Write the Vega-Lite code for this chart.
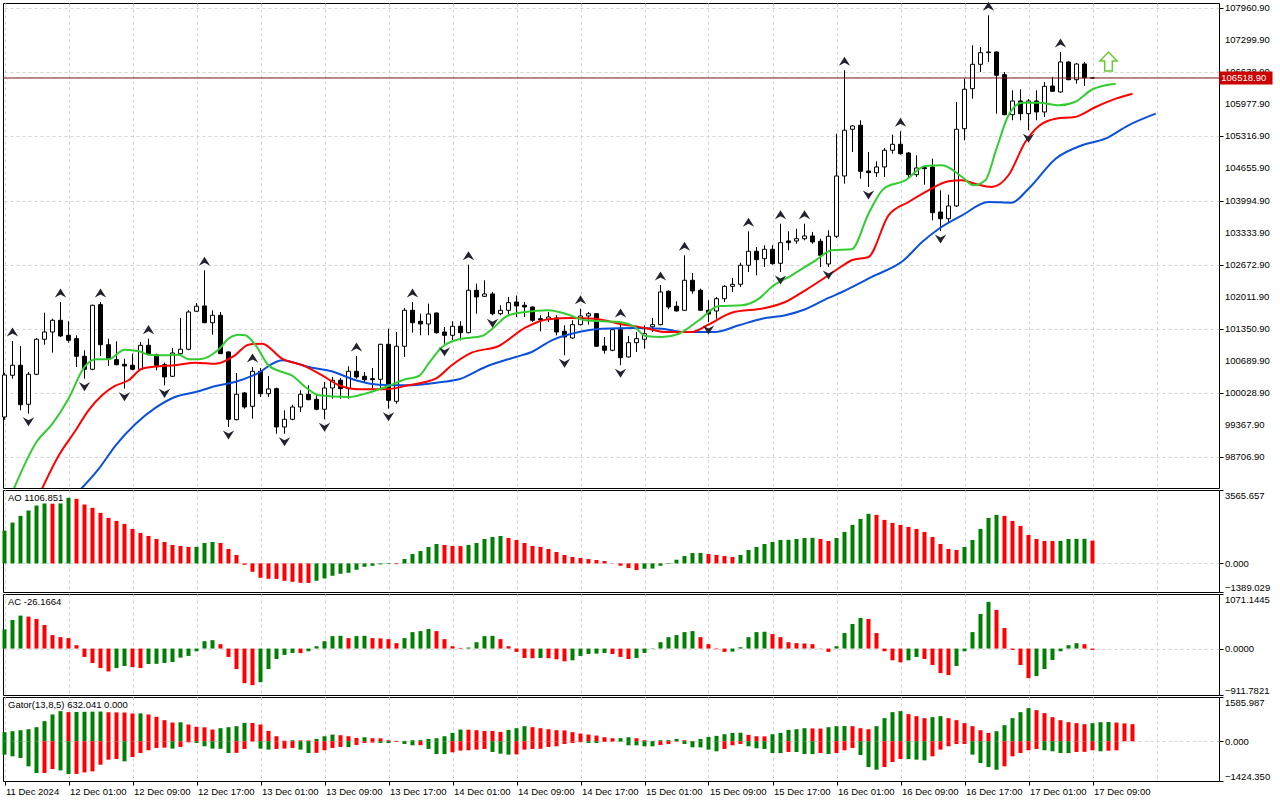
{
  "$schema": "https://vega.github.io/schema/vega-lite/v6.json",
  "background": "white",
  "padding": {"left": 1, "top": 1, "right": 0, "bottom": 0},
  "bounds": "flush",
  "spacing": 2,
  "config": {
    "view": {"stroke": "black", "strokeWidth": 1},
    "axis": {"labelFont": "Liberation Sans", "labelFontSize": 9.5, "labelColor": "black", "title": null, "labelOverlap": false},
    "text": {"font": "Liberation Sans"}
  },
  "datasets": {
    "candles": [
      {"i":0,"o":99539,"h":100450,"l":99480,"c":100404},
      {"i":1,"o":100398,"h":101104,"l":100328,"c":100604},
      {"i":2,"o":100604,"h":101001,"l":99677,"c":99792},
      {"i":3,"o":99801,"h":100466,"l":99607,"c":100419},
      {"i":4,"o":100419,"h":101165,"l":100400,"c":101139},
      {"i":5,"o":101139,"h":101687,"l":101027,"c":101289},
      {"i":6,"o":101289,"h":101563,"l":100864,"c":101530},
      {"i":7,"o":101530,"h":101907,"l":101186,"c":101207},
      {"i":8,"o":101221,"h":101510,"l":101069,"c":101118},
      {"i":9,"o":101152,"h":101221,"l":100569,"c":100789},
      {"i":10,"o":100789,"h":100913,"l":100328,"c":100522},
      {"i":11,"o":100522,"h":101852,"l":100501,"c":101839},
      {"i":12,"o":101852,"h":101907,"l":100795,"c":101027},
      {"i":13,"o":101027,"h":101152,"l":100589,"c":100740},
      {"i":14,"o":100719,"h":101097,"l":100604,"c":100616},
      {"i":15,"o":100624,"h":100740,"l":100122,"c":100589},
      {"i":16,"o":100604,"h":100843,"l":100501,"c":100522},
      {"i":17,"o":100522,"h":101083,"l":100501,"c":101015},
      {"i":18,"o":101015,"h":101152,"l":100809,"c":100836},
      {"i":19,"o":100822,"h":100843,"l":100501,"c":100604},
      {"i":20,"o":100616,"h":100658,"l":100191,"c":100363},
      {"i":21,"o":100377,"h":100960,"l":100363,"c":100857},
      {"i":22,"o":100843,"h":101577,"l":100809,"c":100933},
      {"i":23,"o":100933,"h":101736,"l":100913,"c":101701},
      {"i":24,"o":101716,"h":101886,"l":101701,"c":101819},
      {"i":25,"o":101825,"h":102560,"l":101470,"c":101481},
      {"i":26,"o":101481,"h":101736,"l":101234,"c":101633},
      {"i":27,"o":101633,"h":101701,"l":100836,"c":100843},
      {"i":28,"o":100878,"h":100890,"l":99333,"c":99492},
      {"i":29,"o":99484,"h":100445,"l":99471,"c":100007},
      {"i":30,"o":100034,"h":100054,"l":99710,"c":99745},
      {"i":31,"o":99760,"h":100569,"l":99504,"c":100480},
      {"i":32,"o":100480,"h":100548,"l":99951,"c":100019},
      {"i":33,"o":100019,"h":100383,"l":99951,"c":100116},
      {"i":34,"o":100122,"h":100143,"l":99195,"c":99333},
      {"i":35,"o":99333,"h":99677,"l":99195,"c":99492},
      {"i":36,"o":99492,"h":99792,"l":99471,"c":99745},
      {"i":37,"o":99745,"h":100089,"l":99642,"c":100007},
      {"i":38,"o":100007,"h":100191,"l":99883,"c":99896},
      {"i":39,"o":99904,"h":99986,"l":99677,"c":99698},
      {"i":40,"o":99698,"h":100260,"l":99492,"c":100136},
      {"i":41,"o":100136,"h":100363,"l":99916,"c":100295},
      {"i":42,"o":100295,"h":100342,"l":99916,"c":100122},
      {"i":43,"o":100122,"h":100583,"l":99916,"c":100480},
      {"i":44,"o":100480,"h":100795,"l":100328,"c":100363},
      {"i":45,"o":100377,"h":100466,"l":100260,"c":100307},
      {"i":46,"o":100328,"h":100548,"l":100122,"c":100307},
      {"i":47,"o":100315,"h":101048,"l":100122,"c":101036},
      {"i":48,"o":101036,"h":101357,"l":99710,"c":99883},
      {"i":49,"o":99862,"h":101289,"l":99813,"c":100995},
      {"i":50,"o":100995,"h":101784,"l":100775,"c":101736},
      {"i":51,"o":101736,"h":101907,"l":101275,"c":101481},
      {"i":52,"o":101510,"h":101666,"l":101221,"c":101454},
      {"i":53,"o":101454,"h":101872,"l":101221,"c":101660},
      {"i":54,"o":101680,"h":101690,"l":101254,"c":101275},
      {"i":55,"o":101289,"h":101392,"l":101048,"c":101221},
      {"i":56,"o":101221,"h":101510,"l":101118,"c":101407},
      {"i":57,"o":101407,"h":101510,"l":101118,"c":101275},
      {"i":58,"o":101275,"h":102675,"l":101265,"c":102148},
      {"i":59,"o":102148,"h":102284,"l":101666,"c":102010},
      {"i":60,"o":102024,"h":102354,"l":102010,"c":102072},
      {"i":61,"o":102072,"h":102113,"l":101633,"c":101666},
      {"i":62,"o":101666,"h":101839,"l":101633,"c":101736},
      {"i":63,"o":101736,"h":102010,"l":101645,"c":101893},
      {"i":64,"o":101907,"h":102042,"l":101598,"c":101825},
      {"i":65,"o":101839,"h":101907,"l":101598,"c":101804},
      {"i":66,"o":101804,"h":101815,"l":101495,"c":101530},
      {"i":67,"o":101563,"h":101633,"l":101304,"c":101536},
      {"i":68,"o":101551,"h":101701,"l":101495,"c":101598},
      {"i":69,"o":101577,"h":101633,"l":101221,"c":101289},
      {"i":70,"o":101304,"h":101427,"l":100809,"c":101186},
      {"i":71,"o":101166,"h":101530,"l":101152,"c":101440},
      {"i":72,"o":101440,"h":101769,"l":101427,"c":101619},
      {"i":73,"o":101619,"h":101701,"l":101440,"c":101666},
      {"i":74,"o":101666,"h":101676,"l":100980,"c":100995},
      {"i":75,"o":101001,"h":101186,"l":100843,"c":100913},
      {"i":76,"o":100913,"h":101372,"l":100892,"c":101337},
      {"i":77,"o":101337,"h":101495,"l":100604,"c":100760},
      {"i":78,"o":100775,"h":101207,"l":100765,"c":101069},
      {"i":79,"o":101069,"h":101289,"l":100878,"c":101152},
      {"i":80,"o":101139,"h":101427,"l":100946,"c":101254},
      {"i":81,"o":101398,"h":101577,"l":101289,"c":101440},
      {"i":82,"o":101440,"h":102257,"l":101427,"c":102113},
      {"i":83,"o":102127,"h":102148,"l":101757,"c":101804},
      {"i":84,"o":101819,"h":101921,"l":101715,"c":101722},
      {"i":85,"o":101736,"h":102869,"l":101726,"c":102354},
      {"i":86,"o":102354,"h":102504,"l":102078,"c":102134},
      {"i":87,"o":102148,"h":102181,"l":101730,"c":101736},
      {"i":88,"o":101736,"h":101942,"l":101495,"c":101660},
      {"i":89,"o":101722,"h":102010,"l":101563,"c":101975},
      {"i":90,"o":101975,"h":102251,"l":101907,"c":102230},
      {"i":91,"o":102230,"h":102401,"l":102113,"c":102271},
      {"i":92,"o":102271,"h":102716,"l":102216,"c":102663},
      {"i":93,"o":102663,"h":103363,"l":102525,"c":102951},
      {"i":94,"o":102951,"h":103040,"l":102457,"c":102778},
      {"i":95,"o":102799,"h":103075,"l":102628,"c":102992},
      {"i":96,"o":102992,"h":103075,"l":102675,"c":102696},
      {"i":97,"o":102704,"h":103519,"l":102525,"c":103128},
      {"i":98,"o":103163,"h":103363,"l":102972,"c":103128},
      {"i":99,"o":103163,"h":103416,"l":103107,"c":103210},
      {"i":100,"o":103210,"h":103519,"l":103177,"c":103266},
      {"i":101,"o":103266,"h":103349,"l":103107,"c":103142},
      {"i":102,"o":103157,"h":103210,"l":102628,"c":102869},
      {"i":103,"o":102690,"h":103383,"l":102628,"c":103260},
      {"i":104,"o":103260,"h":105372,"l":103225,"c":104501},
      {"i":105,"o":104501,"h":106678,"l":104343,"c":105443},
      {"i":106,"o":105463,"h":105545,"l":104996,"c":105531},
      {"i":107,"o":105545,"h":105648,"l":104446,"c":104598},
      {"i":108,"o":104604,"h":104996,"l":104275,"c":104569},
      {"i":109,"o":104569,"h":104804,"l":104481,"c":104687},
      {"i":110,"o":104687,"h":105078,"l":104481,"c":105031},
      {"i":111,"o":105031,"h":105352,"l":104961,"c":105154},
      {"i":112,"o":105154,"h":105422,"l":104940,"c":104961},
      {"i":113,"o":104975,"h":104996,"l":104481,"c":104528},
      {"i":114,"o":104528,"h":104928,"l":104481,"c":104666},
      {"i":115,"o":104672,"h":104687,"l":104322,"c":104652},
      {"i":116,"o":104687,"h":104857,"l":103589,"c":103746},
      {"i":117,"o":103760,"h":104207,"l":103369,"c":103622},
      {"i":118,"o":103622,"h":104116,"l":103554,"c":103884},
      {"i":119,"o":103884,"h":106025,"l":103863,"c":105463},
      {"i":120,"o":105475,"h":106505,"l":105237,"c":106287},
      {"i":121,"o":106299,"h":107193,"l":106093,"c":106801},
      {"i":122,"o":106801,"h":107158,"l":106643,"c":107040},
      {"i":123,"o":107040,"h":107810,"l":106849,"c":107055},
      {"i":124,"o":107055,"h":107065,"l":105784,"c":106575},
      {"i":125,"o":106587,"h":106643,"l":105751,"c":105764},
      {"i":126,"o":105764,"h":106266,"l":105648,"c":106046},
      {"i":127,"o":106046,"h":106287,"l":105648,"c":105784},
      {"i":128,"o":105784,"h":106087,"l":105442,"c":106046},
      {"i":129,"o":106046,"h":106266,"l":105648,"c":105819},
      {"i":130,"o":105819,"h":106437,"l":105716,"c":106348},
      {"i":131,"o":106354,"h":106540,"l":106231,"c":106245},
      {"i":132,"o":106231,"h":107055,"l":106216,"c":106849},
      {"i":133,"o":106849,"h":106860,"l":106472,"c":106484},
      {"i":134,"o":106484,"h":106828,"l":106402,"c":106807},
      {"i":135,"o":106807,"h":106849,"l":106354,"c":106525},
      {"i":136,"o":106518.9,"h":106530,"l":106510,"c":106518.9}
    ],
    "fractals": [
      {"i":1,"k":"up","p":101104},{"i":7,"k":"up","p":101907},{"i":12,"k":"up","p":101907},
      {"i":18,"k":"up","p":101152},{"i":25,"k":"up","p":102560},{"i":31,"k":"up","p":100569},
      {"i":44,"k":"up","p":100795},{"i":51,"k":"up","p":101907},{"i":58,"k":"up","p":102675},
      {"i":72,"k":"up","p":101769},{"i":77,"k":"up","p":101495},{"i":82,"k":"up","p":102257},
      {"i":85,"k":"up","p":102869},{"i":93,"k":"up","p":103363},{"i":97,"k":"up","p":103519},
      {"i":100,"k":"up","p":103519},{"i":105,"k":"up","p":106678},{"i":112,"k":"up","p":105422},
      {"i":123,"k":"up","p":107810},{"i":132,"k":"up","p":107055},
      {"i":3,"k":"down","p":99607},{"i":10,"k":"down","p":100328},{"i":15,"k":"down","p":100122},
      {"i":20,"k":"down","p":100191},{"i":28,"k":"down","p":99333},{"i":35,"k":"down","p":99195},
      {"i":40,"k":"down","p":99492},{"i":48,"k":"down","p":99710},{"i":55,"k":"down","p":101048},
      {"i":61,"k":"down","p":101633},{"i":70,"k":"down","p":100809},{"i":77,"k":"down","p":100604},
      {"i":88,"k":"down","p":101495},{"i":97,"k":"down","p":102525},{"i":103,"k":"down","p":102628},
      {"i":108,"k":"down","p":104275},{"i":117,"k":"down","p":103369},{"i":128,"k":"down","p":105442}
    ],
    "pricelabels": [
      {"p":107960.9,"t":"107960.90"},{"p":107299.9,"t":"107299.90"},{"p":106638.9,"t":"106638.90"},
      {"p":105977.9,"t":"105977.90"},{"p":105316.9,"t":"105316.90"},{"p":104655.9,"t":"104655.90"},
      {"p":103994.9,"t":"103994.90"},{"p":103333.9,"t":"103333.90"},{"p":102672.9,"t":"102672.90"},
      {"p":102011.9,"t":"102011.90"},{"p":101350.9,"t":"101350.90"},{"p":100689.9,"t":"100689.90"},
      {"p":100028.9,"t":"100028.90"},{"p":99367.9,"t":"99367.90"},{"p":98706.9,"t":"98706.90"}
    ],
    "lips": [
      {"i":1,"v":97995},{"i":4,"v":99024},{"i":6,"v":99401},{"i":8,"v":99916},{"i":10,"v":100569},
      {"i":11.4,"v":100727},{"i":13,"v":100727},{"i":15,"v":100925},{"i":16.8,"v":100892},{"i":18,"v":100822},
      {"i":20,"v":100809},{"i":21.8,"v":100822},{"i":23,"v":100727},{"i":24.3,"v":100727},{"i":26.8,"v":100933},
      {"i":28,"v":101152},{"i":29.3,"v":101234},{"i":30.1,"v":101221},{"i":31.4,"v":101015},{"i":33,"v":100604},
      {"i":34.7,"v":100466},{"i":35.9,"v":100398},{"i":37.6,"v":100157},{"i":39.3,"v":99986},{"i":43,"v":99951},
      {"i":45.5,"v":100040},{"i":48,"v":100178},{"i":50.1,"v":100315},{"i":51.8,"v":100383},{"i":53,"v":100637},
      {"i":54.7,"v":100980},{"i":56.8,"v":101139},{"i":59.7,"v":101207},{"i":60.9,"v":101345},{"i":63,"v":101633},
      {"i":65.1,"v":101701},{"i":68,"v":101736},{"i":70.1,"v":101666},{"i":72.6,"v":101530},{"i":76.8,"v":101495},
      {"i":78.8,"v":101392},{"i":80.1,"v":101207},{"i":82.2,"v":101186},{"i":84.3,"v":101254},{"i":86.8,"v":101530},
      {"i":89.3,"v":101825},{"i":92.2,"v":101839},{"i":94.3,"v":101975},{"i":95.9,"v":102216},{"i":98.4,"v":102457},
      {"i":101.4,"v":102765},{"i":103.4,"v":102972},{"i":105.9,"v":102992},{"i":108,"v":103725},{"i":109.9,"v":104240},
      {"i":112.6,"v":104413},{"i":115.1,"v":104707},{"i":117.2,"v":104722},{"i":119.7,"v":104481},{"i":121.1,"v":104310},
      {"i":122.6,"v":104413},{"i":124,"v":105064},{"i":125.5,"v":105751},{"i":127.2,"v":106011},{"i":129.3,"v":106011},
      {"i":131.8,"v":105957},{"i":133.8,"v":106025},{"i":136,"v":106287},{"i":138.9,"v":106402}
    ],
    "teeth": [
      {"i":4.5,"v":97995},{"i":6.8,"v":98751},{"i":8.9,"v":99265},{"i":10.5,"v":99677},{"i":12.2,"v":99986},
      {"i":13.8,"v":100178},{"i":15.5,"v":100295},{"i":17.2,"v":100534},{"i":19.3,"v":100583},{"i":21.3,"v":100604},
      {"i":23.9,"v":100658},{"i":26.4,"v":100637},{"i":28.8,"v":100809},{"i":30.5,"v":101028},{"i":32.2,"v":101049},
      {"i":34.7,"v":100740},{"i":37.6,"v":100583},{"i":39.7,"v":100398},{"i":41.8,"v":100192},{"i":44.3,"v":100109},
      {"i":47.6,"v":100109},{"i":50.5,"v":100192},{"i":53.9,"v":100328},{"i":55.9,"v":100604},{"i":58.4,"v":100863},
      {"i":61.8,"v":101001},{"i":65.1,"v":101378},{"i":68,"v":101551},{"i":70.9,"v":101577},{"i":73.8,"v":101563},
      {"i":76.8,"v":101460},{"i":80.1,"v":101372},{"i":82.6,"v":101289},{"i":85.9,"v":101289},{"i":88,"v":101440},
      {"i":90.9,"v":101687},{"i":95.1,"v":101784},{"i":97.6,"v":101907},{"i":100.1,"v":102148},{"i":103,"v":102457},
      {"i":104.7,"v":102648},{"i":105.9,"v":102766},{"i":108,"v":102834},{"i":110.5,"v":103692},{"i":113,"v":103966},
      {"i":115.5,"v":104207},{"i":118,"v":104392},{"i":119.7,"v":104413},{"i":121.3,"v":104343},{"i":123.4,"v":104275},
      {"i":125.5,"v":104516},{"i":127.6,"v":105201},{"i":129.3,"v":105531},{"i":131.4,"v":105681},{"i":133.8,"v":105716},
      {"i":136.4,"v":105922},{"i":138.9,"v":106093},{"i":141,"v":106196}
    ],
    "jaw": [
      {"i":9.2,"v":97995},{"i":11.8,"v":98475},{"i":13.9,"v":98957},{"i":16.4,"v":99401},{"i":18.9,"v":99731},
      {"i":21.3,"v":99951},{"i":23.9,"v":100054},{"i":26.4,"v":100178},{"i":28.8,"v":100260},{"i":31.4,"v":100418},
      {"i":34.7,"v":100707},{"i":38,"v":100569},{"i":40.9,"v":100480},{"i":43.9,"v":100295},{"i":46.8,"v":100204},
      {"i":50.9,"v":100192},{"i":54.7,"v":100260},{"i":56.8,"v":100315},{"i":60.1,"v":100569},{"i":63.9,"v":100775},
      {"i":65.9,"v":100878},{"i":68.4,"v":101118},{"i":71.8,"v":101289},{"i":74.7,"v":101357},{"i":78.8,"v":101372},
      {"i":82.2,"v":101357},{"i":84.7,"v":101289},{"i":88.8,"v":101289},{"i":91.8,"v":101427},{"i":94.7,"v":101563},
      {"i":97.6,"v":101633},{"i":100.1,"v":101757},{"i":103,"v":101990},{"i":104.7,"v":102113},{"i":108.4,"v":102422},
      {"i":112.4,"v":102766},{"i":114.7,"v":103142},{"i":116.8,"v":103416},{"i":119.7,"v":103692},{"i":123,"v":103966},
      {"i":125.9,"v":103952},{"i":128,"v":104240},{"i":131.4,"v":104858},{"i":134.7,"v":105134},{"i":137.6,"v":105269},
      {"i":140.5,"v":105545},{"i":143.9,"v":105784}
    ],
    "ao": [
      {"i":0,"v":1594,"d":"up"},{"i":1,"v":1984,"d":"up"},{"i":2,"v":2309,"d":"up"},{"i":3,"v":2570,"d":"up"},
      {"i":4,"v":2813,"d":"up"},{"i":5,"v":2911,"d":"up"},{"i":6,"v":2900,"d":"down"},{"i":7,"v":2914,"d":"up"},
      {"i":8,"v":3187,"d":"up"},{"i":9,"v":3138,"d":"down"},{"i":10,"v":2862,"d":"down"},{"i":11,"v":2700,"d":"down"},
      {"i":12,"v":2456,"d":"down"},{"i":13,"v":2211,"d":"down"},{"i":14,"v":2065,"d":"down"},{"i":15,"v":1919,"d":"down"},
      {"i":16,"v":1675,"d":"down"},{"i":17,"v":1479,"d":"down"},{"i":18,"v":1333,"d":"down"},{"i":19,"v":1187,"d":"down"},
      {"i":20,"v":1041,"d":"down"},{"i":21,"v":895,"d":"down"},{"i":22,"v":845,"d":"down"},{"i":23,"v":797,"d":"down"},
      {"i":24,"v":805,"d":"up"},{"i":25,"v":992,"d":"up"},{"i":26,"v":1041,"d":"up"},{"i":27,"v":992,"d":"down"},
      {"i":28,"v":699,"d":"down"},{"i":29,"v":407,"d":"down"},{"i":30,"v":-65,"d":"down"},{"i":31,"v":-407,"d":"down"},
      {"i":32,"v":-699,"d":"down"},{"i":33,"v":-748,"d":"down"},{"i":34,"v":-752,"d":"down"},{"i":35,"v":-845,"d":"down"},
      {"i":36,"v":-895,"d":"down"},{"i":37,"v":-943,"d":"down"},{"i":38,"v":-948,"d":"down"},{"i":39,"v":-845,"d":"up"},
      {"i":40,"v":-732,"d":"up"},{"i":41,"v":-601,"d":"up"},{"i":42,"v":-504,"d":"up"},{"i":43,"v":-455,"d":"up"},
      {"i":44,"v":-309,"d":"up"},{"i":45,"v":-163,"d":"up"},{"i":46,"v":-114,"d":"up"},{"i":47,"v":-48,"d":"up"},
      {"i":48,"v":-28,"d":"up"},{"i":49,"v":-37,"d":"down"},{"i":50,"v":211,"d":"up"},{"i":51,"v":455,"d":"up"},
      {"i":52,"v":601,"d":"up"},{"i":53,"v":797,"d":"up"},{"i":54,"v":943,"d":"up"},{"i":55,"v":895,"d":"down"},
      {"i":56,"v":845,"d":"down"},{"i":57,"v":840,"d":"down"},{"i":58,"v":895,"d":"up"},{"i":59,"v":992,"d":"up"},
      {"i":60,"v":1187,"d":"up"},{"i":61,"v":1285,"d":"up"},{"i":62,"v":1333,"d":"up"},{"i":63,"v":1235,"d":"down"},
      {"i":64,"v":1139,"d":"down"},{"i":65,"v":992,"d":"down"},{"i":66,"v":845,"d":"down"},{"i":67,"v":797,"d":"down"},
      {"i":68,"v":699,"d":"down"},{"i":69,"v":553,"d":"down"},{"i":70,"v":407,"d":"down"},{"i":71,"v":309,"d":"down"},
      {"i":72,"v":261,"d":"down"},{"i":73,"v":211,"d":"down"},{"i":74,"v":163,"d":"down"},{"i":75,"v":114,"d":"down"},
      {"i":76,"v":9,"d":"down"},{"i":77,"v":-114,"d":"down"},{"i":78,"v":-228,"d":"down"},{"i":79,"v":-325,"d":"down"},
      {"i":80,"v":-260,"d":"up"},{"i":81,"v":-251,"d":"up"},{"i":82,"v":-114,"d":"up"},{"i":83,"v":-28,"d":"up"},
      {"i":84,"v":179,"d":"up"},{"i":85,"v":358,"d":"up"},{"i":86,"v":504,"d":"up"},{"i":87,"v":510,"d":"up"},
      {"i":88,"v":455,"d":"down"},{"i":89,"v":407,"d":"down"},{"i":90,"v":358,"d":"down"},{"i":91,"v":309,"d":"down"},
      {"i":92,"v":407,"d":"up"},{"i":93,"v":651,"d":"up"},{"i":94,"v":797,"d":"up"},{"i":95,"v":943,"d":"up"},
      {"i":96,"v":1041,"d":"up"},{"i":97,"v":1139,"d":"up"},{"i":98,"v":1145,"d":"up"},{"i":99,"v":1187,"d":"up"},
      {"i":100,"v":1235,"d":"up"},{"i":101,"v":1243,"d":"up"},{"i":102,"v":1187,"d":"down"},{"i":103,"v":1089,"d":"down"},
      {"i":104,"v":1235,"d":"up"},{"i":105,"v":1529,"d":"up"},{"i":106,"v":1870,"d":"up"},{"i":107,"v":2163,"d":"up"},
      {"i":108,"v":2407,"d":"up"},{"i":109,"v":2358,"d":"down"},{"i":110,"v":2114,"d":"down"},{"i":111,"v":1968,"d":"down"},
      {"i":112,"v":1870,"d":"down"},{"i":113,"v":1773,"d":"down"},{"i":114,"v":1675,"d":"down"},{"i":115,"v":1529,"d":"down"},
      {"i":116,"v":1285,"d":"down"},{"i":117,"v":943,"d":"down"},{"i":118,"v":699,"d":"down"},{"i":119,"v":651,"d":"down"},
      {"i":120,"v":797,"d":"up"},{"i":121,"v":1139,"d":"up"},{"i":122,"v":1675,"d":"up"},{"i":123,"v":2211,"d":"up"},
      {"i":124,"v":2358,"d":"up"},{"i":125,"v":2309,"d":"down"},{"i":126,"v":2065,"d":"down"},{"i":127,"v":1821,"d":"down"},
      {"i":128,"v":1383,"d":"down"},{"i":129,"v":1187,"d":"down"},{"i":130,"v":1089,"d":"down"},{"i":131,"v":1085,"d":"down"},
      {"i":132,"v":1091,"d":"up"},{"i":133,"v":1187,"d":"up"},{"i":134,"v":1192,"d":"up"},{"i":135,"v":1196,"d":"up"},
      {"i":136,"v":1106.851,"d":"down"}
    ],
    "ac": [
      {"i":0,"v":376,"d":"up"},{"i":1,"v":561,"d":"up"},{"i":2,"v":647,"d":"up"},{"i":3,"v":627,"d":"down"},
      {"i":4,"v":581,"d":"down"},{"i":5,"v":462,"d":"down"},{"i":6,"v":264,"d":"down"},{"i":7,"v":224,"d":"down"},
      {"i":8,"v":205,"d":"down"},{"i":9,"v":66,"d":"down"},{"i":10,"v":-165,"d":"down"},{"i":11,"v":-284,"d":"down"},
      {"i":12,"v":-383,"d":"down"},{"i":13,"v":-449,"d":"down"},{"i":14,"v":-383,"d":"up"},{"i":15,"v":-343,"d":"up"},
      {"i":16,"v":-363,"d":"down"},{"i":17,"v":-383,"d":"down"},{"i":18,"v":-304,"d":"up"},{"i":19,"v":-300,"d":"up"},
      {"i":20,"v":-284,"d":"up"},{"i":21,"v":-264,"d":"up"},{"i":22,"v":-178,"d":"up"},{"i":23,"v":-145,"d":"up"},
      {"i":24,"v":-53,"d":"up"},{"i":25,"v":145,"d":"up"},{"i":26,"v":165,"d":"up"},{"i":27,"v":86,"d":"down"},
      {"i":28,"v":-165,"d":"down"},{"i":29,"v":-403,"d":"down"},{"i":30,"v":-680,"d":"down"},{"i":31,"v":-719,"d":"down"},
      {"i":32,"v":-660,"d":"up"},{"i":33,"v":-403,"d":"up"},{"i":34,"v":-205,"d":"up"},{"i":35,"v":-125,"d":"up"},
      {"i":36,"v":-86,"d":"up"},{"i":37,"v":-90,"d":"down"},{"i":38,"v":-53,"d":"up"},{"i":39,"v":46,"d":"up"},
      {"i":40,"v":145,"d":"up"},{"i":41,"v":244,"d":"up"},{"i":42,"v":250,"d":"up"},{"i":43,"v":205,"d":"down"},
      {"i":44,"v":244,"d":"up"},{"i":45,"v":250,"d":"up"},{"i":46,"v":205,"d":"down"},{"i":47,"v":200,"d":"down"},
      {"i":48,"v":185,"d":"down"},{"i":49,"v":106,"d":"down"},{"i":50,"v":205,"d":"up"},{"i":51,"v":323,"d":"up"},
      {"i":52,"v":343,"d":"up"},{"i":53,"v":383,"d":"up"},{"i":54,"v":343,"d":"down"},{"i":55,"v":185,"d":"down"},
      {"i":56,"v":46,"d":"down"},{"i":57,"v":13,"d":"down"},{"i":58,"v":20,"d":"up"},{"i":59,"v":125,"d":"up"},
      {"i":60,"v":244,"d":"up"},{"i":61,"v":250,"d":"up"},{"i":62,"v":185,"d":"down"},{"i":63,"v":46,"d":"down"},
      {"i":64,"v":-66,"d":"down"},{"i":65,"v":-185,"d":"down"},{"i":66,"v":-190,"d":"down"},{"i":67,"v":-185,"d":"up"},
      {"i":68,"v":-190,"d":"down"},{"i":69,"v":-211,"d":"down"},{"i":70,"v":-251,"d":"down"},{"i":71,"v":-231,"d":"up"},
      {"i":72,"v":-145,"d":"up"},{"i":73,"v":-106,"d":"up"},{"i":74,"v":-100,"d":"up"},{"i":75,"v":-86,"d":"up"},
      {"i":76,"v":-106,"d":"down"},{"i":77,"v":-165,"d":"down"},{"i":78,"v":-205,"d":"down"},{"i":79,"v":-185,"d":"up"},
      {"i":80,"v":-86,"d":"up"},{"i":81,"v":-7,"d":"up"},{"i":82,"v":125,"d":"up"},{"i":83,"v":224,"d":"up"},
      {"i":84,"v":264,"d":"up"},{"i":85,"v":323,"d":"up"},{"i":86,"v":343,"d":"up"},{"i":87,"v":224,"d":"down"},
      {"i":88,"v":86,"d":"down"},{"i":89,"v":-13,"d":"down"},{"i":90,"v":-66,"d":"down"},{"i":91,"v":-60,"d":"up"},
      {"i":92,"v":26,"d":"up"},{"i":93,"v":224,"d":"up"},{"i":94,"v":323,"d":"up"},{"i":95,"v":330,"d":"up"},
      {"i":96,"v":284,"d":"down"},{"i":97,"v":224,"d":"down"},{"i":98,"v":125,"d":"down"},{"i":99,"v":106,"d":"down"},
      {"i":100,"v":100,"d":"down"},{"i":101,"v":86,"d":"down"},{"i":102,"v":-5,"d":"down"},{"i":103,"v":-66,"d":"down"},
      {"i":104,"v":46,"d":"up"},{"i":105,"v":304,"d":"up"},{"i":106,"v":482,"d":"up"},{"i":107,"v":601,"d":"up"},
      {"i":108,"v":581,"d":"down"},{"i":109,"v":304,"d":"down"},{"i":110,"v":-53,"d":"down"},{"i":111,"v":-231,"d":"down"},
      {"i":112,"v":-271,"d":"down"},{"i":113,"v":-231,"d":"up"},{"i":114,"v":-165,"d":"up"},{"i":115,"v":-205,"d":"down"},
      {"i":116,"v":-323,"d":"down"},{"i":117,"v":-482,"d":"down"},{"i":118,"v":-521,"d":"down"},{"i":119,"v":-343,"d":"up"},
      {"i":120,"v":-53,"d":"up"},{"i":121,"v":323,"d":"up"},{"i":122,"v":680,"d":"up"},{"i":123,"v":917,"d":"up"},
      {"i":124,"v":759,"d":"down"},{"i":125,"v":403,"d":"down"},{"i":126,"v":-26,"d":"down"},{"i":127,"v":-323,"d":"down"},
      {"i":128,"v":-581,"d":"down"},{"i":129,"v":-541,"d":"up"},{"i":130,"v":-403,"d":"up"},{"i":131,"v":-224,"d":"up"},
      {"i":132,"v":-53,"d":"up"},{"i":133,"v":66,"d":"up"},{"i":134,"v":106,"d":"up"},{"i":135,"v":86,"d":"down"},
      {"i":136,"v":-26.1664,"d":"down"}
    ],
    "gu": [
      {"i":0,"v":324,"d":"up"},{"i":1,"v":360,"d":"up"},{"i":2,"v":396,"d":"up"},{"i":3,"v":432,"d":"up"},
      {"i":4,"v":504,"d":"up"},{"i":5,"v":720,"d":"up"},{"i":6,"v":960,"d":"up"},{"i":7,"v":1080,"d":"up"},
      {"i":8,"v":1044,"d":"down"},{"i":9,"v":1050,"d":"up"},{"i":10,"v":1055,"d":"up"},{"i":11,"v":1060,"d":"up"},
      {"i":12,"v":1065,"d":"up"},{"i":13,"v":1040,"d":"down"},{"i":14,"v":1035,"d":"down"},{"i":15,"v":1030,"d":"down"},
      {"i":16,"v":996,"d":"down"},{"i":17,"v":1000,"d":"up"},{"i":18,"v":960,"d":"down"},{"i":19,"v":876,"d":"down"},
      {"i":20,"v":756,"d":"down"},{"i":21,"v":670,"d":"down"},{"i":22,"v":680,"d":"up"},{"i":23,"v":600,"d":"down"},
      {"i":24,"v":520,"d":"down"},{"i":25,"v":500,"d":"down"},{"i":26,"v":420,"d":"down"},{"i":27,"v":468,"d":"up"},
      {"i":28,"v":504,"d":"up"},{"i":29,"v":540,"d":"up"},{"i":30,"v":660,"d":"up"},{"i":31,"v":655,"d":"down"},
      {"i":32,"v":600,"d":"down"},{"i":33,"v":372,"d":"down"},{"i":34,"v":180,"d":"down"},{"i":35,"v":20,"d":"down"},
      {"i":36,"v":36,"d":"up"},{"i":37,"v":30,"d":"down"},{"i":38,"v":28,"d":"down"},{"i":39,"v":84,"d":"up"},
      {"i":40,"v":180,"d":"up"},{"i":41,"v":240,"d":"up"},{"i":42,"v":216,"d":"down"},{"i":43,"v":180,"d":"down"},
      {"i":44,"v":120,"d":"down"},{"i":45,"v":144,"d":"up"},{"i":46,"v":108,"d":"down"},{"i":47,"v":104,"d":"down"},
      {"i":48,"v":36,"d":"down"},{"i":49,"v":12,"d":"down"},{"i":50,"v":14,"d":"up"},{"i":51,"v":36,"d":"up"},
      {"i":52,"v":40,"d":"up"},{"i":53,"v":84,"d":"up"},{"i":54,"v":108,"d":"up"},{"i":55,"v":180,"d":"up"},
      {"i":56,"v":300,"d":"up"},{"i":57,"v":420,"d":"up"},{"i":58,"v":415,"d":"down"},{"i":59,"v":396,"d":"down"},
      {"i":60,"v":372,"d":"down"},{"i":61,"v":370,"d":"down"},{"i":62,"v":336,"d":"down"},{"i":63,"v":408,"d":"up"},
      {"i":64,"v":468,"d":"up"},{"i":65,"v":540,"d":"up"},{"i":66,"v":504,"d":"down"},{"i":67,"v":468,"d":"down"},
      {"i":68,"v":432,"d":"down"},{"i":69,"v":396,"d":"down"},{"i":70,"v":390,"d":"down"},{"i":71,"v":324,"d":"down"},
      {"i":72,"v":276,"d":"down"},{"i":73,"v":240,"d":"down"},{"i":74,"v":204,"d":"down"},{"i":75,"v":144,"d":"down"},
      {"i":76,"v":108,"d":"down"},{"i":77,"v":110,"d":"up"},{"i":78,"v":144,"d":"up"},{"i":79,"v":108,"d":"down"},
      {"i":80,"v":36,"d":"down"},{"i":81,"v":12,"d":"down"},{"i":82,"v":36,"d":"up"},{"i":83,"v":40,"d":"up"},
      {"i":84,"v":84,"d":"up"},{"i":85,"v":36,"d":"down"},{"i":86,"v":8,"d":"down"},{"i":87,"v":84,"d":"up"},
      {"i":88,"v":156,"d":"up"},{"i":89,"v":192,"d":"up"},{"i":90,"v":252,"d":"up"},{"i":91,"v":300,"d":"up"},
      {"i":92,"v":305,"d":"up"},{"i":93,"v":228,"d":"down"},{"i":94,"v":180,"d":"down"},{"i":95,"v":175,"d":"down"},
      {"i":96,"v":252,"d":"up"},{"i":97,"v":300,"d":"up"},{"i":98,"v":408,"d":"up"},{"i":99,"v":432,"d":"up"},
      {"i":100,"v":468,"d":"up"},{"i":101,"v":460,"d":"down"},{"i":102,"v":455,"d":"down"},{"i":103,"v":504,"d":"up"},
      {"i":104,"v":540,"d":"up"},{"i":105,"v":545,"d":"up"},{"i":106,"v":540,"d":"down"},{"i":107,"v":468,"d":"down"},
      {"i":108,"v":432,"d":"down"},{"i":109,"v":540,"d":"up"},{"i":110,"v":828,"d":"up"},{"i":111,"v":1044,"d":"up"},
      {"i":112,"v":1080,"d":"up"},{"i":113,"v":972,"d":"down"},{"i":114,"v":900,"d":"down"},{"i":115,"v":828,"d":"down"},
      {"i":116,"v":864,"d":"up"},{"i":117,"v":900,"d":"up"},{"i":118,"v":828,"d":"down"},{"i":119,"v":756,"d":"down"},
      {"i":120,"v":648,"d":"down"},{"i":121,"v":540,"d":"down"},{"i":122,"v":396,"d":"down"},{"i":123,"v":300,"d":"down"},
      {"i":124,"v":360,"d":"up"},{"i":125,"v":576,"d":"up"},{"i":126,"v":828,"d":"up"},{"i":127,"v":1044,"d":"up"},
      {"i":128,"v":1188,"d":"up"},{"i":129,"v":1116,"d":"down"},{"i":130,"v":1008,"d":"down"},{"i":131,"v":864,"d":"down"},
      {"i":132,"v":756,"d":"down"},{"i":133,"v":684,"d":"down"},{"i":134,"v":648,"d":"down"},{"i":135,"v":612,"d":"down"},
      {"i":136,"v":648,"d":"up"},{"i":137,"v":684,"d":"up"},{"i":138,"v":690,"d":"up"},{"i":139,"v":670,"d":"down"},
      {"i":140,"v":640,"d":"down"},{"i":141,"v":612,"d":"down"}
    ],
    "gl": [
      {"i":0,"v":-480,"d":"up"},{"i":1,"v":-540,"d":"up"},{"i":2,"v":-600,"d":"up"},{"i":3,"v":-900,"d":"up"},
      {"i":4,"v":-1140,"d":"up"},{"i":5,"v":-1135,"d":"down"},{"i":6,"v":-996,"d":"down"},{"i":7,"v":-1044,"d":"up"},
      {"i":8,"v":-1176,"d":"up"},{"i":9,"v":-1170,"d":"down"},{"i":10,"v":-1116,"d":"down"},{"i":11,"v":-1080,"d":"down"},
      {"i":12,"v":-840,"d":"down"},{"i":13,"v":-660,"d":"down"},{"i":14,"v":-636,"d":"down"},{"i":15,"v":-720,"d":"up"},
      {"i":16,"v":-564,"d":"down"},{"i":17,"v":-420,"d":"down"},{"i":18,"v":-324,"d":"down"},{"i":19,"v":-240,"d":"down"},
      {"i":20,"v":-230,"d":"down"},{"i":21,"v":-264,"d":"up"},{"i":22,"v":-204,"d":"down"},{"i":23,"v":-40,"d":"down"},
      {"i":24,"v":-60,"d":"up"},{"i":25,"v":-180,"d":"up"},{"i":26,"v":-264,"d":"up"},{"i":27,"v":-270,"d":"up"},
      {"i":28,"v":-420,"d":"up"},{"i":29,"v":-415,"d":"down"},{"i":30,"v":-276,"d":"down"},{"i":31,"v":-10,"d":"down"},
      {"i":32,"v":-264,"d":"up"},{"i":33,"v":-300,"d":"up"},{"i":34,"v":-276,"d":"down"},{"i":35,"v":-264,"d":"down"},
      {"i":36,"v":-240,"d":"down"},{"i":37,"v":-300,"d":"up"},{"i":38,"v":-420,"d":"up"},{"i":39,"v":-415,"d":"down"},
      {"i":40,"v":-324,"d":"down"},{"i":41,"v":-240,"d":"down"},{"i":42,"v":-204,"d":"down"},{"i":43,"v":-210,"d":"up"},
      {"i":44,"v":-132,"d":"down"},{"i":45,"v":-60,"d":"down"},{"i":46,"v":-48,"d":"down"},{"i":47,"v":-60,"d":"up"},
      {"i":48,"v":-62,"d":"up"},{"i":49,"v":-24,"d":"down"},{"i":50,"v":-96,"d":"up"},{"i":51,"v":-144,"d":"up"},
      {"i":52,"v":-140,"d":"down"},{"i":53,"v":-276,"d":"up"},{"i":54,"v":-456,"d":"up"},{"i":55,"v":-460,"d":"up"},
      {"i":56,"v":-396,"d":"down"},{"i":57,"v":-336,"d":"down"},{"i":58,"v":-324,"d":"down"},{"i":59,"v":-300,"d":"down"},
      {"i":60,"v":-276,"d":"down"},{"i":61,"v":-384,"d":"up"},{"i":62,"v":-444,"d":"up"},{"i":63,"v":-480,"d":"up"},
      {"i":64,"v":-470,"d":"down"},{"i":65,"v":-300,"d":"down"},{"i":66,"v":-276,"d":"down"},{"i":67,"v":-270,"d":"down"},
      {"i":68,"v":-204,"d":"down"},{"i":69,"v":-180,"d":"down"},{"i":70,"v":-96,"d":"down"},{"i":71,"v":-60,"d":"down"},
      {"i":72,"v":-36,"d":"down"},{"i":73,"v":-60,"d":"up"},{"i":74,"v":-62,"d":"up"},{"i":75,"v":-24,"d":"down"},
      {"i":76,"v":-12,"d":"down"},{"i":77,"v":-14,"d":"up"},{"i":78,"v":-144,"d":"up"},{"i":79,"v":-146,"d":"up"},
      {"i":80,"v":-180,"d":"up"},{"i":81,"v":-182,"d":"up"},{"i":82,"v":-132,"d":"down"},{"i":83,"v":-96,"d":"down"},
      {"i":84,"v":-12,"d":"down"},{"i":85,"v":-96,"d":"up"},{"i":86,"v":-216,"d":"up"},{"i":87,"v":-220,"d":"up"},
      {"i":88,"v":-300,"d":"up"},{"i":89,"v":-360,"d":"up"},{"i":90,"v":-276,"d":"down"},{"i":91,"v":-144,"d":"down"},
      {"i":92,"v":-96,"d":"down"},{"i":93,"v":-180,"d":"up"},{"i":94,"v":-252,"d":"up"},{"i":95,"v":-276,"d":"up"},
      {"i":96,"v":-420,"d":"up"},{"i":97,"v":-425,"d":"up"},{"i":98,"v":-384,"d":"down"},{"i":99,"v":-386,"d":"up"},
      {"i":100,"v":-456,"d":"up"},{"i":101,"v":-460,"d":"up"},{"i":102,"v":-420,"d":"down"},{"i":103,"v":-456,"d":"up"},
      {"i":104,"v":-420,"d":"down"},{"i":105,"v":-324,"d":"down"},{"i":106,"v":-240,"d":"down"},{"i":107,"v":-492,"d":"up"},
      {"i":108,"v":-924,"d":"up"},{"i":109,"v":-1020,"d":"up"},{"i":110,"v":-924,"d":"down"},{"i":111,"v":-744,"d":"down"},
      {"i":112,"v":-636,"d":"down"},{"i":113,"v":-640,"d":"up"},{"i":114,"v":-660,"d":"up"},{"i":115,"v":-684,"d":"up"},
      {"i":116,"v":-540,"d":"down"},{"i":117,"v":-300,"d":"down"},{"i":118,"v":-180,"d":"down"},{"i":119,"v":-100,"d":"down"},
      {"i":120,"v":-96,"d":"down"},{"i":121,"v":-480,"d":"up"},{"i":122,"v":-780,"d":"up"},{"i":123,"v":-924,"d":"up"},
      {"i":124,"v":-1020,"d":"up"},{"i":125,"v":-900,"d":"down"},{"i":126,"v":-540,"d":"down"},{"i":127,"v":-420,"d":"down"},
      {"i":128,"v":-324,"d":"down"},{"i":129,"v":-276,"d":"down"},{"i":130,"v":-324,"d":"up"},{"i":131,"v":-360,"d":"up"},
      {"i":132,"v":-420,"d":"up"},{"i":133,"v":-425,"d":"up"},{"i":134,"v":-384,"d":"down"},{"i":135,"v":-380,"d":"down"},
      {"i":136,"v":-324,"d":"down"},{"i":137,"v":-360,"d":"up"},{"i":138,"v":-340,"d":"down"},{"i":139,"v":-325,"d":"down"}
    ]
  },
  "vconcat": [
    {
      "width": 1216,
      "height": 485,
      "layer": [
        {
          "data": {"name": "candles"},
          "mark": {"type": "rule", "color": "black", "strokeWidth": 1},
          "encoding": {
            "x": {"field": "i", "type": "quantitative",
                  "scale": {"domain": [-0.1875, 151.8125], "nice": false, "zero": false, "padding": 0},
                  "axis": {"values": [0,4,8,12,16,20,24,28,32,36,40,44,48,52,56,60,64,68,72,76,80,84,88,92,96,100,104,108,112,116,120,124,128,132,136,140,144,148],
                           "grid": true, "gridColor": "#d4d4d4", "gridDash": [3,3], "labels": false, "ticks": false, "domain": false}},
            "y": {"field": "l", "type": "quantitative",
                  "scale": {"domain": [98077, 108063], "nice": false, "zero": false, "padding": 0},
                  "axis": {"orient": "right",
                           "values": [107960.9,107299.9,106638.9,105977.9,105316.9,104655.9,103994.9,103333.9,102672.9,102011.9,101350.9,100689.9,100028.9,99367.9,98706.9],
                           "labels": false, "grid": true, "gridColor": "#d4d4d4", "gridDash": [3,3],
                           "tickColor": "black", "tickSize": 4, "domain": false}},
            "y2": {"field": "h"}
          }
        },
        {
          "data": {"name": "candles"},
          "mark": {"type": "bar", "width": 4, "stroke": "black", "strokeWidth": 1},
          "encoding": {
            "x": {"field": "i", "type": "quantitative", "scale": {"domain": [-0.1875, 151.8125], "nice": false, "zero": false, "padding": 0}},
            "y": {"field": "o", "type": "quantitative", "scale": {"domain": [98077, 108063], "nice": false, "zero": false, "padding": 0}},
            "y2": {"field": "c"},
            "fill": {"condition": {"test": "datum.c >= datum.o", "value": "white"}, "value": "black"}
          }
        },
        {
          "data": {"name": "jaw"},
          "mark": {"type": "line", "color": "#0B50D8", "strokeWidth": 2, "clip": true, "interpolate": "monotone"},
          "encoding": {"x": {"field": "i", "type": "quantitative"}, "y": {"field": "v", "type": "quantitative"}}
        },
        {
          "data": {"name": "teeth"},
          "mark": {"type": "line", "color": "#FF0000", "strokeWidth": 2, "clip": true, "interpolate": "monotone"},
          "encoding": {"x": {"field": "i", "type": "quantitative"}, "y": {"field": "v", "type": "quantitative"}}
        },
        {
          "data": {"name": "lips"},
          "mark": {"type": "line", "color": "#32CD32", "strokeWidth": 2, "clip": true, "interpolate": "monotone"},
          "encoding": {"x": {"field": "i", "type": "quantitative"}, "y": {"field": "v", "type": "quantitative"}}
        },
        {
          "data": {"name": "fractals"},
          "transform": [{"filter": "datum.k === 'up'"}],
          "mark": {"type": "point", "shape": "M0,-0.6L0.75,0.6L0,0.2L-0.75,0.6Z", "filled": true, "color": "#22222e", "opacity": 1, "size": 230, "yOffset": -9},
          "encoding": {"x": {"field": "i", "type": "quantitative"}, "y": {"field": "p", "type": "quantitative"}}
        },
        {
          "data": {"name": "fractals"},
          "transform": [{"filter": "datum.k === 'down'"}],
          "mark": {"type": "point", "shape": "M0,0.6L0.75,-0.6L0,-0.2L-0.75,-0.6Z", "filled": true, "color": "#22222e", "opacity": 1, "size": 230, "yOffset": 8},
          "encoding": {"x": {"field": "i", "type": "quantitative"}, "y": {"field": "p", "type": "quantitative"}}
        },
        {
          "data": {"values": [{"i": 138, "p": 106859}]},
          "mark": {"type": "point", "shape": "M0,-1L0.9,-0.05L0.4,-0.05L0.4,1L-0.4,1L-0.4,-0.05L-0.9,-0.05Z", "filled": true, "fill": "white", "stroke": "#66CC33", "strokeWidth": 1.5, "opacity": 1, "size": 361},
          "encoding": {"x": {"field": "i", "type": "quantitative"}, "y": {"field": "p", "type": "quantitative"}}
        },
        {
          "data": {"name": "pricelabels"},
          "mark": {"type": "text", "align": "left", "baseline": "middle", "color": "black", "fontSize": 9.5, "dx": 6},
          "encoding": {"x": {"datum": 151.8125, "type": "quantitative"}, "y": {"field": "p", "type": "quantitative"}, "text": {"field": "t"}}
        },
        {
          "data": {"values": [{"p": 106518.9, "t": "106518.90"}]},
          "layer": [
            {"mark": {"type": "rule", "color": "#7A1515", "strokeWidth": 1},
             "encoding": {"y": {"field": "p", "type": "quantitative"}}},
            {"mark": {"type": "rect", "color": "#CC0000"},
             "encoding": {"x": {"datum": 151.85, "type": "quantitative"}, "x2": {"datum": 158.5}, "y": {"datum": 106652, "type": "quantitative"}, "y2": {"datum": 106385}}},
            {"mark": {"type": "text", "align": "left", "baseline": "middle", "color": "white", "fontSize": 9.5, "dx": 2},
             "encoding": {"x": {"datum": 151.85, "type": "quantitative"}, "y": {"field": "p", "type": "quantitative"}, "text": {"field": "t"}}}
          ]
        }
      ]
    },
    {
      "width": 1216,
      "height": 102,
      "layer": [
        {
          "data": {"name": "ao"},
          "mark": {"type": "bar", "width": 4},
          "encoding": {
            "x": {"field": "i", "type": "quantitative",
                  "scale": {"domain": [-0.1875, 151.8125], "nice": false, "zero": false, "padding": 0},
                  "axis": {"values": [0,4,8,12,16,20,24,28,32,36,40,44,48,52,56,60,64,68,72,76,80,84,88,92,96,100,104,108,112,116,120,124,128,132,136,140,144,148],
                           "grid": true, "gridColor": "#d4d4d4", "gridDash": [3,3], "labels": false, "ticks": false, "domain": false}},
            "y": {"field": "v", "type": "quantitative", "stack": null,
                  "scale": {"domain": [-1389.029, 3565.657], "nice": false, "zero": false, "padding": 0},
                  "axis": {"orient": "right", "values": [-1389.029, 0, 3565.657], "format": ".3f", "labelFlush": true,
                           "grid": true, "gridColor": "#d4d4d4", "gridDash": [3,3],
                           "gridOpacity": {"condition": {"test": "datum.value === 0", "value": 1}, "value": 0},
                           "tickColor": "black", "tickSize": 4, "domain": false, "labelPadding": 1.5}},
            "color": {"field": "d", "type": "nominal", "scale": {"domain": ["up", "down"], "range": ["#008000", "#FF0000"]}, "legend": null}
          }
        },
        {
          "data": {"values": [{"t": "AO 1106.851"}]},
          "mark": {"type": "text", "align": "left", "baseline": "top", "fontSize": 9.5, "color": "black", "dx": 5, "dy": 3},
          "encoding": {"x": {"datum": -0.1875, "type": "quantitative"}, "y": {"datum": 3565.657, "type": "quantitative"}, "text": {"field": "t"}}
        }
      ]
    },
    {
      "width": 1216,
      "height": 101,
      "layer": [
        {
          "data": {"name": "ac"},
          "mark": {"type": "bar", "width": 4},
          "encoding": {
            "x": {"field": "i", "type": "quantitative",
                  "scale": {"domain": [-0.1875, 151.8125], "nice": false, "zero": false, "padding": 0},
                  "axis": {"values": [0,4,8,12,16,20,24,28,32,36,40,44,48,52,56,60,64,68,72,76,80,84,88,92,96,100,104,108,112,116,120,124,128,132,136,140,144,148],
                           "grid": true, "gridColor": "#d4d4d4", "gridDash": [3,3], "labels": false, "ticks": false, "domain": false}},
            "y": {"field": "v", "type": "quantitative", "stack": null,
                  "scale": {"domain": [-911.7821, 1071.1445], "nice": false, "zero": false, "padding": 0},
                  "axis": {"orient": "right", "values": [-911.7821, 0, 1071.1445], "format": ".4f", "labelFlush": true,
                           "grid": true, "gridColor": "#d4d4d4", "gridDash": [3,3],
                           "gridOpacity": {"condition": {"test": "datum.value === 0", "value": 1}, "value": 0},
                           "tickColor": "black", "tickSize": 4, "domain": false, "labelPadding": 1.5}},
            "color": {"field": "d", "type": "nominal", "scale": {"domain": ["up", "down"], "range": ["#008000", "#FF0000"]}, "legend": null}
          }
        },
        {
          "data": {"values": [{"t": "AC -26.1664"}]},
          "mark": {"type": "text", "align": "left", "baseline": "top", "fontSize": 9.5, "color": "black", "dx": 5, "dy": 3},
          "encoding": {"x": {"datum": -0.1875, "type": "quantitative"}, "y": {"datum": 1071.1445, "type": "quantitative"}, "text": {"field": "t"}}
        }
      ]
    },
    {
      "width": 1216,
      "height": 84,
      "layer": [
        {
          "data": {"name": "gu"},
          "mark": {"type": "bar", "width": 4},
          "encoding": {
            "x": {"field": "i", "type": "quantitative",
                  "scale": {"domain": [-0.1875, 151.8125], "nice": false, "zero": false, "padding": 0},
                  "axis": {"values": [0,4,8,12,16,20,24,28,32,36,40,44,48,52,56,60,64,68,72,76,80,84,88,92,96,100,104,108,112,116,120,124,128,132,136,140,144,148],
                           "grid": true, "gridColor": "#d4d4d4", "gridDash": [3,3], "domain": false,
                           "ticks": true, "tickColor": "black", "tickSize": 4,
                           "tickOpacity": {"condition": {"test": "datum.value % 8 === 0 && datum.value <= 136", "value": 1}, "value": 0},
                           "labelAlign": "left", "labelBaseline": "top", "labelFlush": false, "labelBound": false,
                           "labelPadding": 1, "labelOffset": 1, "labelFontSize": 9.5,
                           "labelExpr": "datum.value % 8 === 0 && datum.value <= 136 ? ['11 Dec 2024','12 Dec 01:00','12 Dec 09:00','12 Dec 17:00','13 Dec 01:00','13 Dec 09:00','13 Dec 17:00','14 Dec 01:00','14 Dec 09:00','14 Dec 17:00','15 Dec 01:00','15 Dec 09:00','15 Dec 17:00','16 Dec 01:00','16 Dec 09:00','16 Dec 17:00','17 Dec 01:00','17 Dec 09:00'][datum.value / 8] : ''"}},
            "y": {"field": "v", "type": "quantitative", "stack": null,
                  "scale": {"domain": [-1424.35, 1585.987], "nice": false, "zero": false, "padding": 0},
                  "axis": {"orient": "right", "values": [-1424.35, 0, 1585.987], "format": ".3f", "labelFlush": true,
                           "grid": true, "gridColor": "#d4d4d4", "gridDash": [3,3],
                           "gridOpacity": {"condition": {"test": "datum.value === 0", "value": 1}, "value": 0},
                           "tickColor": "black", "tickSize": 4, "domain": false, "labelPadding": 1.5}},
            "color": {"field": "d", "type": "nominal", "scale": {"domain": ["up", "down"], "range": ["#008000", "#FF0000"]}, "legend": null}
          }
        },
        {
          "data": {"name": "gl"},
          "mark": {"type": "bar", "width": 4},
          "encoding": {
            "x": {"field": "i", "type": "quantitative"},
            "y": {"field": "v", "type": "quantitative", "stack": null},
            "color": {"field": "d", "type": "nominal", "scale": {"domain": ["up", "down"], "range": ["#008000", "#FF0000"]}, "legend": null}
          }
        },
        {
          "data": {"values": [{"t": "Gator(13,8,5) 632.041 0.000"}]},
          "mark": {"type": "text", "align": "left", "baseline": "top", "fontSize": 9.5, "color": "black", "dx": 5, "dy": 3},
          "encoding": {"x": {"datum": -0.1875, "type": "quantitative"}, "y": {"datum": 1585.987, "type": "quantitative"}, "text": {"field": "t"}}
        }
      ]
    }
  ]
}
